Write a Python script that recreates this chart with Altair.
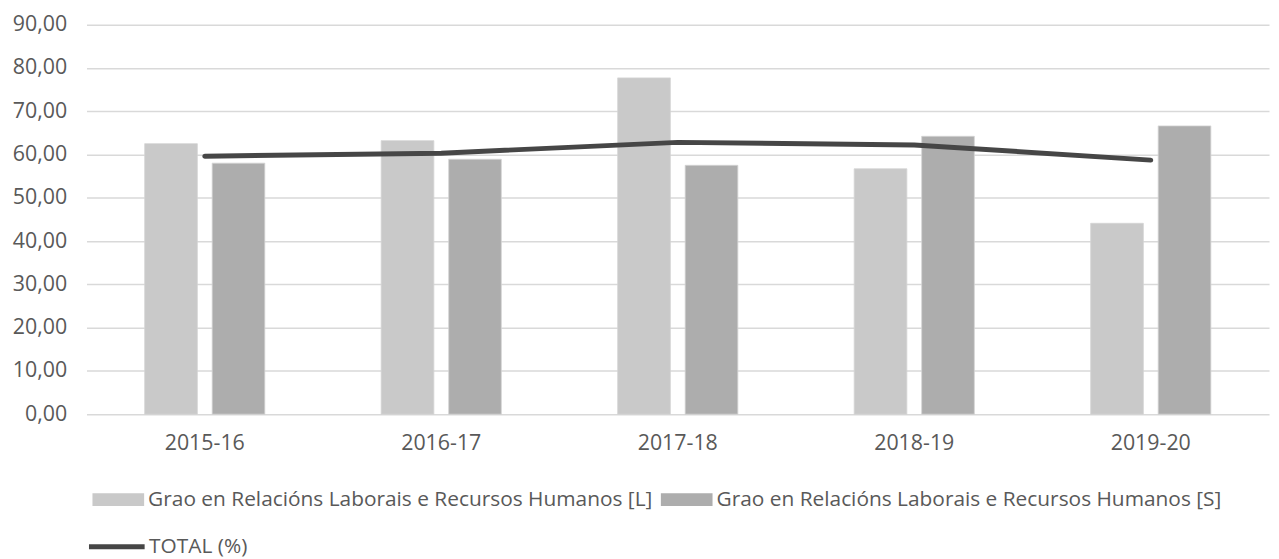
import altair as alt
import pandas as pd

years = ["2015-16", "2016-17", "2017-18", "2018-19", "2019-20"]
series_l = "Grao en Relacións Laborais e Recursos Humanos [L]"
series_s = "Grao en Relacións Laborais e Recursos Humanos [S]"
values_l = [62.5, 63.2, 77.7, 56.7, 44.1]
values_s = [58.0, 58.9, 57.5, 64.2, 66.6]
total_name = "TOTAL (%)"
values_total = [59.6, 60.3, 62.8, 62.2, 58.7]

bars_df = pd.DataFrame(
    [{"year": y, "serie": series_l, "value": v} for y, v in zip(years, values_l)]
    + [{"year": y, "serie": series_s, "value": v} for y, v in zip(years, values_s)]
)
line_df = pd.DataFrame({"year": years, "value": values_total, "serie": [total_name] * len(years)})

FONT = "Open Sans"
TXT = "#595959"

x_enc = alt.X(
    "year:N",
    sort=years,
    title=None,
    scale=alt.Scale(paddingInner=0.492, paddingOuter=0.246),
    axis=alt.Axis(labelAngle=0, labelFont=FONT, labelFontSize=21.5, labelColor=TXT,
                  labelPadding=19, ticks=False, domain=False, grid=False),
)
y_enc = alt.Y(
    "value:Q",
    title=None,
    scale=alt.Scale(domain=[0, 90], nice=False, zero=True),
    axis=alt.Axis(values=[0, 10, 20, 30, 40, 50, 60, 70, 80, 90],
                  labelExpr="replace(format(datum.value, '.2f'), '.', ',')",
                  labelFont=FONT, labelFontSize=21.5, labelColor=TXT, labelPadding=20,
                  ticks=False, domain=False, grid=True, gridColor="#d9d9d9", gridWidth=1.5),
)

bars = alt.Chart(bars_df).mark_bar(stroke="#d4d4d4", strokeWidth=0.8).encode(
    x=x_enc,
    xOffset=alt.XOffset("serie:N", sort=[series_l, series_s],
                        scale=alt.Scale(paddingInner=0.22, paddingOuter=0)),
    y=y_enc,
    color=alt.Color(
        "serie:N",
        sort=[series_l, series_s],
        scale=alt.Scale(domain=[series_l, series_s], range=["#c9c9c9", "#adadad"]),
        legend=alt.Legend(
            title=None, orient="none", legendX=6, legendY=452, direction="horizontal",
            symbolType="M-1,-0.25L1,-0.25L1,0.25L-1,0.25Z", symbolSize=2704,
            symbolStrokeWidth=0, labelFont=FONT, labelFontSize=21, labelColor=TXT,
            labelLimit=1000, labelOffset=4, columnPadding=8, padding=0,
        ),
    ),
)

line = alt.Chart(line_df).mark_line(strokeWidth=5, strokeCap="round", strokeJoin="round").encode(
    x=alt.X("year:N", sort=years),
    y=alt.Y("value:Q"),
    stroke=alt.Stroke(
        "serie:N",
        scale=alt.Scale(domain=[total_name], range=["#464646"]),
        legend=alt.Legend(
            title=None, orient="none", legendX=0, legendY=495,
            symbolType="stroke", symbolSize=3136, symbolStrokeWidth=5,
            labelFont=FONT, labelFontSize=21, labelColor=TXT, labelLimit=1000,
            labelOffset=2, padding=0,
        ),
    ),
)

chart = alt.layer(bars, line).properties(
    width=1190,
    height=392,
    autosize=alt.AutoSizeParams(type="none"),
    padding={"left": 79, "top": 15, "right": 2, "bottom": 144},
).configure(background="white").configure_view(stroke=None)

chart.save("out.html", embed_options={"renderer": "svg", "actions": False})
